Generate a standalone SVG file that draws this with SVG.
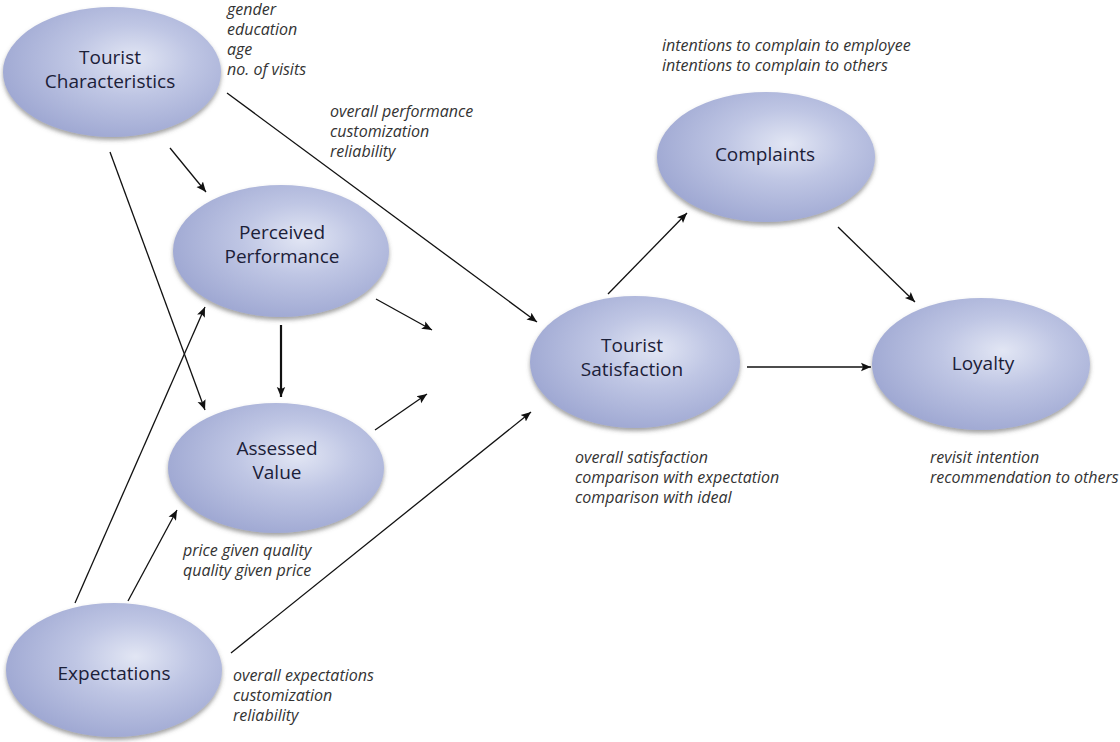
<svg xmlns="http://www.w3.org/2000/svg" width="1120" height="742" viewBox="0 0 1120 742">
  <defs>
    <radialGradient id="g" cx="0.58" cy="0.42" r="0.6" fx="0.6" fy="0.4">
      <stop offset="0" stop-color="#e2e6f4"/>
      <stop offset="0.45" stop-color="#bfc6e4"/>
      <stop offset="1" stop-color="#a0a9d3"/>
    </radialGradient>
    <filter id="sh" x="-10%" y="-10%" width="120%" height="125%">
      <feDropShadow dx="0" dy="3" stdDeviation="2" flood-color="#555" flood-opacity="0.55"/>
    </filter>
    <marker id="ah" viewBox="0 0 10 10" refX="10" refY="5" markerWidth="10" markerHeight="10" markerUnits="userSpaceOnUse" orient="auto">
      <path d="M0,0.8 L10,5 L0,9.2 L2,5 Z" fill="#111"/>
    </marker>
  </defs>
  <style>
    .node ellipse { fill: url(#g); filter: url(#sh); }
    .lbl { font-family: "Open Sans", "Noto Sans", sans-serif; font-size: 19px; fill: #1b2038; text-anchor: middle; }
    .note { font-family: "Open Sans", "Noto Sans", sans-serif; font-size: 16px; font-style: italic; fill: #333; }
    .conn line { stroke: #111; stroke-width: 1.3; marker-end: url(#ah); }
  </style>
  <rect width="1120" height="742" fill="#fff"/>

  <g id="connectors" class="conn">
    <line x1="170" y1="148" x2="206" y2="192"/>
    <line x1="110" y1="152" x2="205" y2="410"/>
    <line x1="227" y1="93" x2="537" y2="322"/>
    <line x1="281" y1="325" x2="281" y2="397" style="stroke-width:2.2"/>
    <line x1="376" y1="299" x2="432" y2="330"/>
    <line x1="375" y1="430" x2="427" y2="394"/>
    <line x1="75" y1="603" x2="205" y2="307"/>
    <line x1="128" y1="601" x2="177" y2="510"/>
    <line x1="231" y1="653" x2="531" y2="412"/>
    <line x1="608" y1="294" x2="687" y2="213"/>
    <line x1="838" y1="227" x2="915" y2="302"/>
    <line x1="747" y1="367" x2="871" y2="367"/>
  </g>

  <g id="tourist-characteristics" class="node">
    <ellipse cx="112" cy="72" rx="109" ry="65"/>
    <text class="lbl" x="110" y="64">Tourist</text>
    <text class="lbl" x="110" y="88">Characteristics</text>
  </g>
  <g id="perceived-performance" class="node">
    <ellipse cx="281" cy="251" rx="108" ry="66"/>
    <text class="lbl" x="282" y="239">Perceived</text>
    <text class="lbl" x="282" y="263">Performance</text>
  </g>
  <g id="assessed-value" class="node">
    <ellipse cx="276" cy="468" rx="108" ry="65"/>
    <text class="lbl" x="277" y="455">Assessed</text>
    <text class="lbl" x="277" y="479">Value</text>
  </g>
  <g id="expectations" class="node">
    <ellipse cx="114" cy="670" rx="108" ry="67"/>
    <text class="lbl" x="114" y="680">Expectations</text>
  </g>
  <g id="tourist-satisfaction" class="node">
    <ellipse cx="635" cy="362" rx="105" ry="66"/>
    <text class="lbl" x="632" y="352">Tourist</text>
    <text class="lbl" x="632" y="376">Satisfaction</text>
  </g>
  <g id="complaints" class="node">
    <ellipse cx="766" cy="157" rx="109" ry="65"/>
    <text class="lbl" x="765" y="161">Complaints</text>
  </g>
  <g id="loyalty" class="node">
    <ellipse cx="981" cy="364" rx="109" ry="66"/>
    <text class="lbl" x="983" y="370">Loyalty</text>
  </g>

  <g id="annotations">
    <text class="note" x="227" y="15">gender</text>
    <text class="note" x="227" y="35">education</text>
    <text class="note" x="227" y="55">age</text>
    <text class="note" x="227" y="75">no. of visits</text>

    <text class="note" x="330" y="117">overall performance</text>
    <text class="note" x="330" y="137">customization</text>
    <text class="note" x="330" y="157">reliability</text>

    <text class="note" x="662" y="51">intentions to complain to employee</text>
    <text class="note" x="662" y="71">intentions to complain to others</text>

    <text class="note" x="575" y="463">overall satisfaction</text>
    <text class="note" x="575" y="483">comparison with expectation</text>
    <text class="note" x="575" y="503">comparison with ideal</text>

    <text class="note" x="930" y="463">revisit intention</text>
    <text class="note" x="930" y="483">recommendation to others</text>

    <text class="note" x="183" y="556">price given quality</text>
    <text class="note" x="183" y="576">quality given price</text>

    <text class="note" x="233" y="681">overall expectations</text>
    <text class="note" x="233" y="701">customization</text>
    <text class="note" x="233" y="721">reliability</text>
  </g>
</svg>
